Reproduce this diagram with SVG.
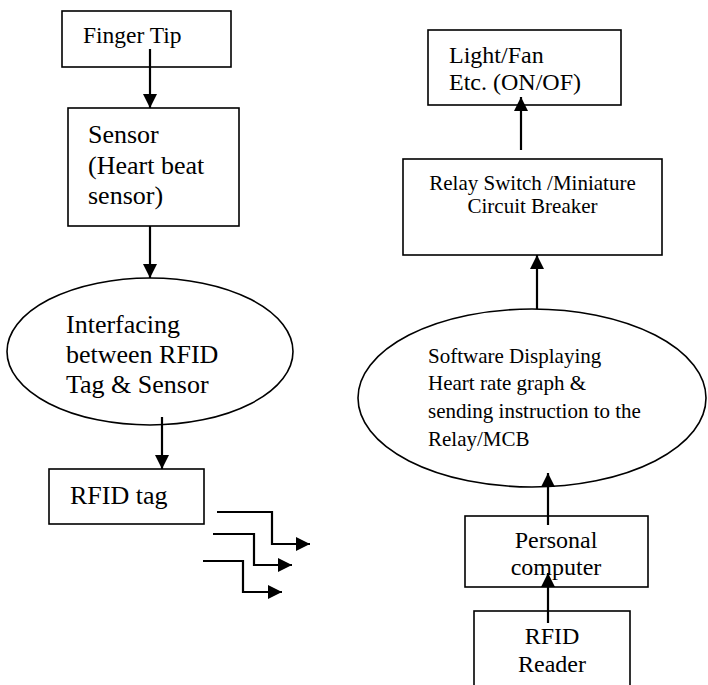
<svg xmlns="http://www.w3.org/2000/svg" width="708" height="685" viewBox="0 0 708 685">
<defs>
<marker id="ah" viewBox="0 0 14 14" refX="14" refY="7" markerWidth="14" markerHeight="14" markerUnits="userSpaceOnUse" orient="auto">
<path d="M0,0 L14,7 L0,14 Z" fill="#000"/>
</marker>
<style>
.box{fill:#fff;stroke:#000;stroke-width:1.6}
.ell{fill:#fff;stroke:#000;stroke-width:1.6}
.t{font-family:"Liberation Serif","Times New Roman",serif;fill:#000}
.c{stroke:#000;stroke-width:2.2;fill:none}
</style>
</defs>
<rect width="708" height="685" fill="#fff"/>
<g id="finger-tip">
<rect class="box" x="62" y="11" width="169" height="56"/>
<text class="t" x="83" y="43" font-size="23.5">Finger Tip</text>
</g>
<g id="sensor">
<rect class="box" x="68" y="108" width="171" height="118"/>
<text class="t" font-size="26"><tspan x="88" y="143">Sensor</tspan><tspan x="88" y="174">(Heart beat</tspan><tspan x="88" y="204">sensor)</tspan></text>
</g>
<g id="interfacing">
<ellipse class="ell" cx="150" cy="351.5" rx="143" ry="73.5"/>
<text class="t" font-size="26"><tspan x="66" y="333">Interfacing</tspan><tspan x="66" y="363">between RFID</tspan><tspan x="66" y="393">Tag &amp; Sensor</tspan></text>
</g>
<g id="rfid-tag">
<rect class="box" x="49" y="469" width="155" height="55"/>
<text class="t" x="70" y="504" font-size="26">RFID tag</text>
</g>
<g id="light-fan">
<rect class="box" x="428" y="30" width="193" height="75"/>
<text class="t" font-size="24"><tspan x="449" y="63">Light/Fan</tspan><tspan x="449" y="90">Etc. (ON/OF)</tspan></text>
</g>
<g id="relay">
<rect class="box" x="403" y="159" width="259" height="96"/>
<text class="t" font-size="21" text-anchor="middle"><tspan x="532.5" y="190">Relay Switch /Miniature</tspan><tspan x="532.5" y="213">Circuit Breaker</tspan></text>
</g>
<g id="software">
<ellipse class="ell" cx="532" cy="398" rx="174" ry="89"/>
<text class="t" font-size="21"><tspan x="428" y="363">Software Displaying</tspan><tspan x="428" y="390">Heart rate graph &amp;</tspan><tspan x="428" y="418">sending instruction to the</tspan><tspan x="428" y="446">Relay/MCB</tspan></text>
</g>
<g id="pc">
<rect class="box" x="465" y="516" width="183" height="71"/>
<text class="t" font-size="24" text-anchor="middle"><tspan x="556" y="548">Personal</tspan><tspan x="556" y="575">computer</tspan></text>
</g>
<g id="rfid-reader">
<rect class="box" x="474" y="611" width="156" height="80"/>
<text class="t" font-size="24" text-anchor="middle"><tspan x="552" y="644">RFID</tspan><tspan x="552" y="672">Reader</tspan></text>
</g>
<g id="connectors">
<line class="c" x1="150" y1="49" x2="150" y2="108" marker-end="url(#ah)"/>
<line class="c" x1="150" y1="226" x2="150" y2="278" marker-end="url(#ah)"/>
<line class="c" x1="162" y1="417" x2="162" y2="469" marker-end="url(#ah)"/>
<polyline class="c" points="217,512 272,512 272,544 310,544" marker-end="url(#ah)"/>
<polyline class="c" points="213,534 254,534 254,565 292,565" marker-end="url(#ah)"/>
<polyline class="c" points="203,561 243,561 243,592 282,592" marker-end="url(#ah)"/>
<line class="c" x1="521" y1="150" x2="521" y2="97" marker-end="url(#ah)"/>
<line class="c" x1="537" y1="309" x2="537" y2="255" marker-end="url(#ah)"/>
<line class="c" x1="548" y1="525" x2="548" y2="473" marker-end="url(#ah)"/>
<line class="c" x1="548" y1="623" x2="548" y2="573" marker-end="url(#ah)"/>
</g>
</svg>
